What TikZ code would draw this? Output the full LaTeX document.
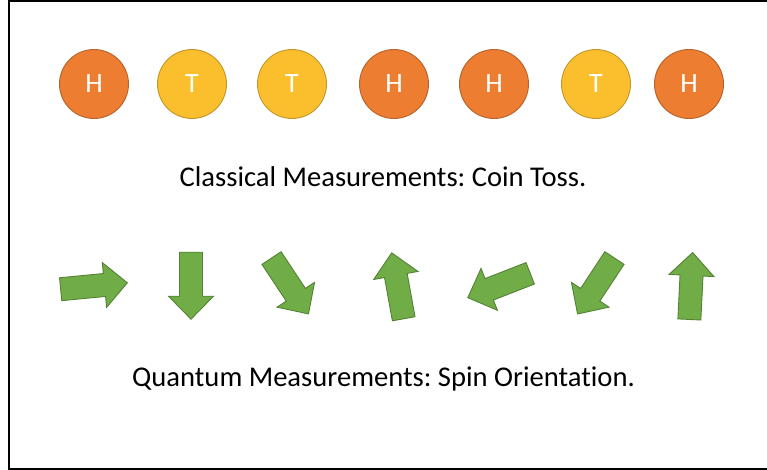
\documentclass[tikz,border=0pt]{standalone}
\usepackage{fontspec}
\setmainfont{Carlito}[Ligatures=NoCommon]
\definecolor{coinorange}{HTML}{ED7D31}
\definecolor{coinorangeline}{HTML}{B5612A}
\definecolor{coingold}{HTML}{FBBF2D}
\definecolor{coingoldline}{HTML}{C0952A}
\definecolor{spingreen}{HTML}{70AD47}
\definecolor{spingreenline}{HTML}{548235}
\tikzset{
  coin/.style={circle, minimum size=69pt, inner sep=0pt, line width=0.9pt, text=white, font=\fontsize{28}{30}\selectfont},
  coinH/.style={coin, fill=coinorange, draw=coinorangeline},
  coinT/.style={coin, fill=coingold, draw=coingoldline},
  spin/.style={fill=spingreen, draw=spingreenline, line width=0.9pt, line join=miter},
  caption/.style={anchor=base, inner sep=0pt, font=\fontsize{28.6}{31}\selectfont},
  frame/.style={draw=black, line width=2pt}
}
\newcommand{\spinarrow}[3]{%
  \draw[spin, shift={(#1,#2)}, rotate=#3]
    (-33.5,11.5) -- (10.5,11.5) -- (10.5,22.5) -- (33.5,0) -- (10.5,-22.5) -- (10.5,-11.5) -- (-33.5,-11.5) -- cycle;}
\frenchspacing
\begin{document}
\begin{tikzpicture}[x=1pt,y=-1pt]
\useasboundingbox (0,0) rectangle (767,470);
\fill[white] (0,0) rectangle (767,470);
\draw[frame] (9,1) rectangle (790,468.5);
\node[coinH] (c1) at (94,84) {H};
\node[coinT] (c2) at (192,84) {T};
\node[coinT] (c3) at (292,84) {T};
\node[coinH] (c4) at (394,84) {H};
\node[coinH] (c5) at (494,84) {H};
\node[coinT] (c6) at (596,84) {T};
\node[coinH] (c7) at (689,84) {H};
\node[caption] (classical) at (383,186.7) {Classical Measurements: Coin Toss.};
\spinarrow{94}{286}{5.5}
\spinarrow{191}{285.7}{-90}
\spinarrow{290}{286}{-56.5}
\spinarrow{397.7}{285.8}{100.3}
\spinarrow{499}{285.5}{201.3}
\spinarrow{596}{286}{-123.4}
\spinarrow{691}{286}{87.2}
\node[caption] (quantum) at (383.5,386.7) {Quantum Measurements: Spin Orientation.};
\end{tikzpicture}
\end{document}
